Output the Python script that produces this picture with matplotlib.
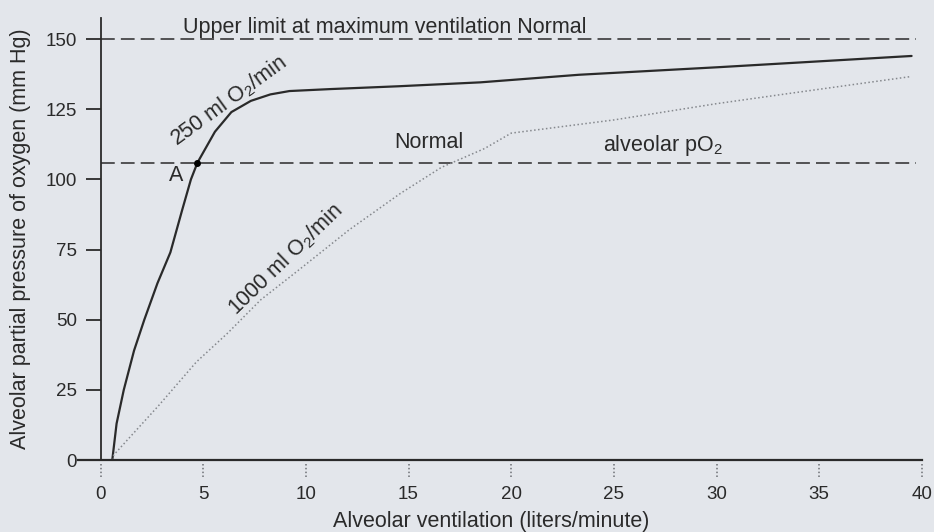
import matplotlib
matplotlib.use('Agg')
import matplotlib.pyplot as plt
import matplotlib.transforms as mtransforms

plt.rcParams['font.family'] = ['Liberation Sans', 'DejaVu Sans']
plt.rcParams['mathtext.fontset'] = 'custom'
plt.rcParams['mathtext.rm'] = 'Liberation Sans'
plt.rcParams['mathtext.it'] = 'Liberation Sans:italic'

# values
vent_250 = [0.57, 0.78, 1.13, 1.63, 2.13, 2.77, 3.40, 3.97, 4.40, 4.72, 5.57,
            6.37, 7.32, 8.27, 9.2, 11.2, 14.5, 18.5, 23.3, 30.1, 39.5]
po2_250 = [0, 13, 25, 39, 50, 63, 74, 89, 100, 106, 117,
           124, 128, 130.3, 131.5, 132.2, 133.2, 134.6, 137.3, 140, 144]

vent_1000 = [0.6, 0.64, 2.84, 4.66, 6.2, 7.8, 9.7, 12.1, 14.6, 16.6, 18.7,
             20.0, 25.0, 30.0, 33.4, 39.5]
po2_1000 = [0, 1.8, 19.5, 34.9, 45.3, 57.1, 68, 82, 95, 104.3, 111,
            116.5, 121.2, 127, 130.5, 136.7]

upper_limit = 150
normal_po2 = 106
point_a = (4.72, 106)

xticks = [0, 5, 10, 15, 20, 25, 30, 35, 40]
yticks = [0, 25, 50, 75, 100, 125, 150]

bg = '#e3e6eb'
ink = '#2a2a2a'
fs = 15.5

fig = plt.figure(figsize=(9.34, 5.32), dpi=100, facecolor=bg)
ax = fig.add_axes([0.0835, 0.1353, 0.9035, 0.8307], facecolor=bg)

ax.set_xlim(-1.1, 40)
ax.set_ylim(0, 157.5)

# reference lines
ax.plot([0, 39.7], [upper_limit, upper_limit], color=ink, lw=1.1,
        linestyle=(0, (9, 4)))
ax.plot([0, 39.7], [normal_po2, normal_po2], color=ink, lw=1.1,
        linestyle=(0, (9, 4)))

# curves
ax.plot(vent_250, po2_250, color=ink, lw=1.6, solid_capstyle='round')
ax.plot(vent_1000, po2_1000, color='#85888d', lw=1.1, linestyle=(0, (1, 1.6)))
ax.plot(*point_a, 'o', color='black', markersize=4)

# spines
for s in ['top', 'right']:
    ax.spines[s].set_visible(False)
ax.spines['left'].set_position(('data', 0))
ax.spines['left'].set_color(ink)
ax.spines['left'].set_linewidth(1.3)
ax.spines['bottom'].set_color(ink)
ax.spines['bottom'].set_linewidth(1.6)

ax.set_yticks(yticks)
ax.set_yticklabels([str(t) for t in yticks])
ax.tick_params(axis='y', direction='out', length=11, width=1.3, color=ink,
               labelsize=13.5, labelcolor=ink, pad=6)
ax.set_xticks(xticks)
ax.set_xticklabels([str(t) for t in xticks])
ax.tick_params(axis='x', length=0, labelsize=13.5, labelcolor=ink, pad=19)

# dotted tick marks below the x axis
trans = mtransforms.blended_transform_factory(ax.transData, ax.transAxes)
ax.vlines(xticks, -0.008, -0.04, transform=trans, clip_on=False,
          colors='#6d7075', lw=1.1, linestyles=(0, (1, 1.5)))

ax.set_xlabel('Alveolar ventilation (liters/minute)', fontsize=fs, color=ink,
              va='center')
ax.xaxis.set_label_coords(0.49, -0.138)
ax.set_ylabel('Alveolar partial pressure of oxygen (mm Hg)', fontsize=fs,
              color=ink, va='center')
ax.yaxis.set_label_coords(-0.0687, 0.5)

# annotations
ax.text(4.0, 154.3, 'Upper limit at maximum ventilation Normal', fontsize=fs,
        color=ink, ha='left', va='center')
ax.text(16.0, 113, 'Normal', fontsize=fs, color=ink, ha='center', va='center')
ax.text(27.4, 112.2, r'alveolar pO$_2$', fontsize=fs, color=ink,
        ha='center', va='center')
ax.text(3.67, 101.5, 'A', fontsize=fs, color=ink, ha='center', va='center')
ax.text(6.25, 127.8, r'250 ml O$_2$/min', fontsize=fs, color=ink,
        rotation=36, ha='center', va='center', rotation_mode='anchor')
ax.text(9.0, 71.5, r'1000 ml O$_2$/min', fontsize=fs, color=ink,
        rotation=44, ha='center', va='center', rotation_mode='anchor')

fig.savefig('out.png', dpi=100, facecolor=bg)
